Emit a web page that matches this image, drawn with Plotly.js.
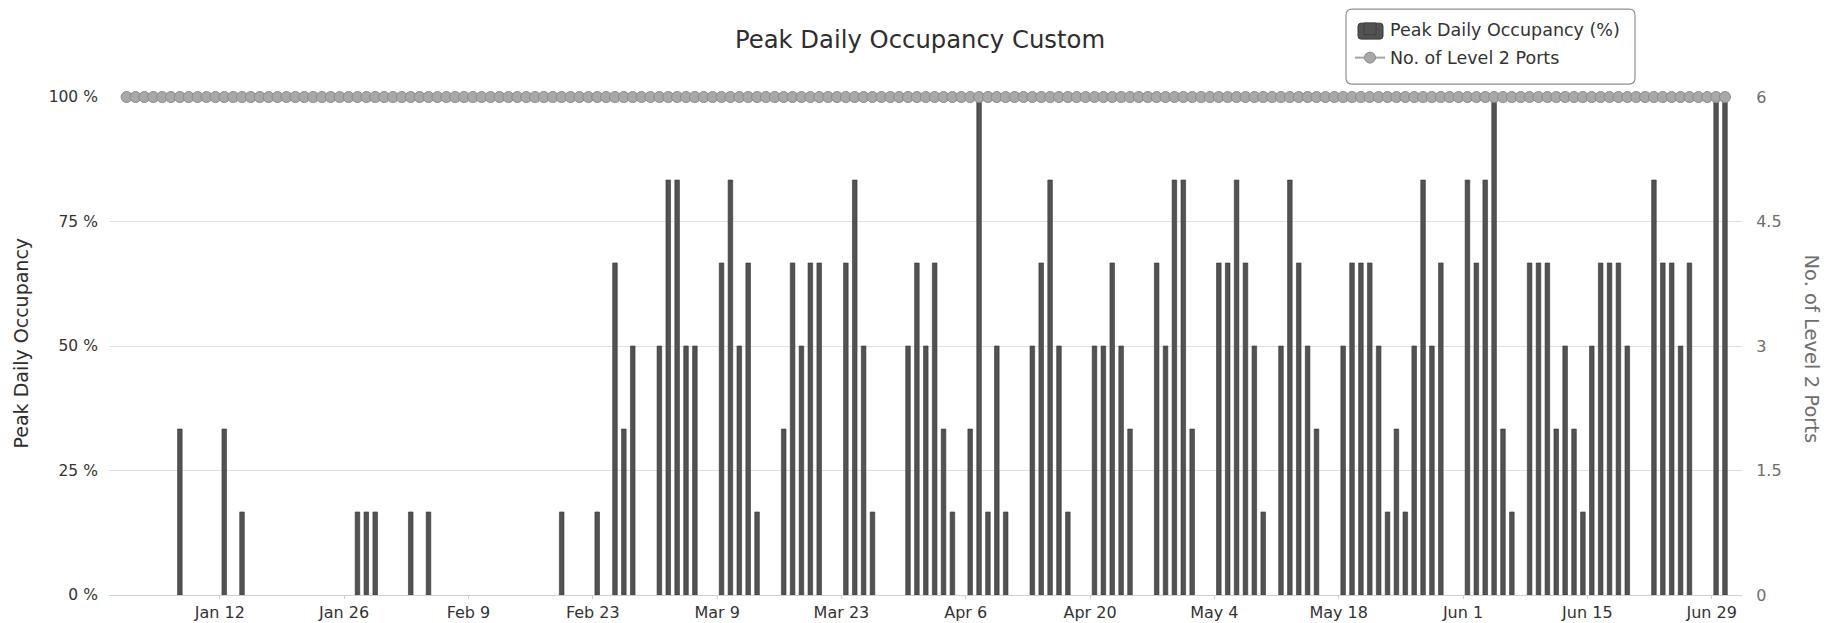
<!DOCTYPE html>
<html>
<head>
<meta charset="utf-8">
<script src="https://cdn.plot.ly/plotly-3.0.1.min.js"></script>
<style>
  html, body { margin: 0; padding: 0; background: #ffffff; }
  #chart { width: 1832px; height: 623px; }
</style>
</head>
<body>
<div id="chart"></div>
<script>
// ---- Data ----
const occupancyDates = [
  "2015-01-07","2015-01-12","2015-01-14",
  "2015-01-27","2015-01-28","2015-01-29","2015-02-02","2015-02-04",
  "2015-02-19","2015-02-23","2015-02-25","2015-02-26","2015-02-27",
  "2015-03-02","2015-03-03","2015-03-04","2015-03-05","2015-03-06",
  "2015-03-09","2015-03-10","2015-03-11","2015-03-12","2015-03-13",
  "2015-03-16","2015-03-17","2015-03-18","2015-03-19","2015-03-20",
  "2015-03-23","2015-03-24","2015-03-25","2015-03-26",
  "2015-03-30","2015-03-31","2015-04-01","2015-04-02","2015-04-03","2015-04-04",
  "2015-04-06","2015-04-07","2015-04-08","2015-04-09","2015-04-10",
  "2015-04-13","2015-04-14","2015-04-15","2015-04-16","2015-04-17",
  "2015-04-20","2015-04-21","2015-04-22","2015-04-23","2015-04-24",
  "2015-04-27","2015-04-28","2015-04-29","2015-04-30","2015-05-01",
  "2015-05-04","2015-05-05","2015-05-06","2015-05-07","2015-05-08","2015-05-09",
  "2015-05-11","2015-05-12","2015-05-13","2015-05-14","2015-05-15",
  "2015-05-18","2015-05-19","2015-05-20","2015-05-21","2015-05-22","2015-05-23",
  "2015-05-24","2015-05-25","2015-05-26","2015-05-27","2015-05-28","2015-05-29",
  "2015-06-01","2015-06-02","2015-06-03","2015-06-04","2015-06-05","2015-06-06",
  "2015-06-08","2015-06-09","2015-06-10","2015-06-11","2015-06-12","2015-06-13",
  "2015-06-14","2015-06-15","2015-06-16","2015-06-17","2015-06-18","2015-06-19",
  "2015-06-22","2015-06-23","2015-06-24","2015-06-25","2015-06-26",
  "2015-06-29","2015-06-30"
];
const occupancyValues = [
  33.33, 33.33, 16.67,
  16.67, 16.67, 16.67, 16.67, 16.67,
  16.67, 16.67, 66.67, 33.33, 50,
  50, 83.33, 83.33, 50, 50,
  66.67, 83.33, 50, 66.67, 16.67,
  33.33, 66.67, 50, 66.67, 66.67,
  66.67, 83.33, 50, 16.67,
  50, 66.67, 50, 66.67, 33.33, 16.67,
  33.33, 100, 16.67, 50, 16.67,
  50, 66.67, 83.33, 50, 16.67,
  50, 50, 66.67, 50, 33.33,
  66.67, 50, 83.33, 83.33, 33.33,
  66.67, 66.67, 83.33, 66.67, 50, 16.67,
  50, 83.33, 66.67, 50, 33.33,
  50, 66.67, 66.67, 66.67, 50, 16.67,
  33.33, 16.67, 50, 83.33, 50, 66.67,
  83.33, 66.67, 83.33, 100, 33.33, 16.67,
  66.67, 66.67, 66.67, 33.33, 50, 33.33,
  16.67, 50, 66.67, 66.67, 66.67, 50,
  83.33, 66.67, 66.67, 50, 66.67,
  100, 100
];

const portDates = [
  "2015-01-01","2015-01-02","2015-01-03","2015-01-04","2015-01-05","2015-01-06","2015-01-07","2015-01-08","2015-01-09","2015-01-10",
  "2015-01-11","2015-01-12","2015-01-13","2015-01-14","2015-01-15","2015-01-16","2015-01-17","2015-01-18","2015-01-19","2015-01-20",
  "2015-01-21","2015-01-22","2015-01-23","2015-01-24","2015-01-25","2015-01-26","2015-01-27","2015-01-28","2015-01-29","2015-01-30","2015-01-31",
  "2015-02-01","2015-02-02","2015-02-03","2015-02-04","2015-02-05","2015-02-06","2015-02-07","2015-02-08","2015-02-09","2015-02-10",
  "2015-02-11","2015-02-12","2015-02-13","2015-02-14","2015-02-15","2015-02-16","2015-02-17","2015-02-18","2015-02-19","2015-02-20",
  "2015-02-21","2015-02-22","2015-02-23","2015-02-24","2015-02-25","2015-02-26","2015-02-27","2015-02-28",
  "2015-03-01","2015-03-02","2015-03-03","2015-03-04","2015-03-05","2015-03-06","2015-03-07","2015-03-08","2015-03-09","2015-03-10",
  "2015-03-11","2015-03-12","2015-03-13","2015-03-14","2015-03-15","2015-03-16","2015-03-17","2015-03-18","2015-03-19","2015-03-20",
  "2015-03-21","2015-03-22","2015-03-23","2015-03-24","2015-03-25","2015-03-26","2015-03-27","2015-03-28","2015-03-29","2015-03-30","2015-03-31",
  "2015-04-01","2015-04-02","2015-04-03","2015-04-04","2015-04-05","2015-04-06","2015-04-07","2015-04-08","2015-04-09","2015-04-10",
  "2015-04-11","2015-04-12","2015-04-13","2015-04-14","2015-04-15","2015-04-16","2015-04-17","2015-04-18","2015-04-19","2015-04-20",
  "2015-04-21","2015-04-22","2015-04-23","2015-04-24","2015-04-25","2015-04-26","2015-04-27","2015-04-28","2015-04-29","2015-04-30",
  "2015-05-01","2015-05-02","2015-05-03","2015-05-04","2015-05-05","2015-05-06","2015-05-07","2015-05-08","2015-05-09","2015-05-10",
  "2015-05-11","2015-05-12","2015-05-13","2015-05-14","2015-05-15","2015-05-16","2015-05-17","2015-05-18","2015-05-19","2015-05-20",
  "2015-05-21","2015-05-22","2015-05-23","2015-05-24","2015-05-25","2015-05-26","2015-05-27","2015-05-28","2015-05-29","2015-05-30","2015-05-31",
  "2015-06-01","2015-06-02","2015-06-03","2015-06-04","2015-06-05","2015-06-06","2015-06-07","2015-06-08","2015-06-09","2015-06-10",
  "2015-06-11","2015-06-12","2015-06-13","2015-06-14","2015-06-15","2015-06-16","2015-06-17","2015-06-18","2015-06-19","2015-06-20",
  "2015-06-21","2015-06-22","2015-06-23","2015-06-24","2015-06-25","2015-06-26","2015-06-27","2015-06-28","2015-06-29","2015-06-30"
];
const portValues = [
  6,6,6,6,6,6,6,6,6,6, 6,6,6,6,6,6,6,6,6,6, 6,6,6,6,6,6,6,6,6,6,6,
  6,6,6,6,6,6,6,6,6,6, 6,6,6,6,6,6,6,6,6,6, 6,6,6,6,6,6,6,6,
  6,6,6,6,6,6,6,6,6,6, 6,6,6,6,6,6,6,6,6,6, 6,6,6,6,6,6,6,6,6,6,6,
  6,6,6,6,6,6,6,6,6,6, 6,6,6,6,6,6,6,6,6,6, 6,6,6,6,6,6,6,6,6,6,
  6,6,6,6,6,6,6,6,6,6, 6,6,6,6,6,6,6,6,6,6, 6,6,6,6,6,6,6,6,6,6,6,
  6,6,6,6,6,6,6,6,6,6, 6,6,6,6,6,6,6,6,6,6, 6,6,6,6,6,6,6,6,6,6
];

const leftTicks = [0, 25, 50, 75, 100];
const leftTickLabels = ["0 %", "25 %", "50 %", "75 %", "100 %"];
const rightTicks = [0, 1.5, 3, 4.5, 6];
const rightTickLabels = ["0", "1.5", "3", "4.5", "6"];

const chartTitle = "Peak Daily Occupancy Custom";
const barName = "Peak Daily Occupancy (%)";
const lineName = "No. of Level 2 Ports";
const leftAxisTitle = "Peak Daily Occupancy";
const rightAxisTitle = "No. of Level 2 Ports";

// ---- Geometry (pixels) ----
const W = 1832, H = 623;
const M = { l: 109, r: 90, t: 96, b: 28 };
const PW = W - M.l - M.r, PH = H - M.t - M.b;
const px2x = (px) => (px - M.l) / PW;            // pixel x -> paper x
const py2y = (py) => (H - M.b - py) / PH;        // pixel y -> paper y

function roundedRectPath(x0, y0, x1, y1, r) {
  const X = px2x, Y = py2y;
  return [
    "M", X(x0 + r), Y(y0),
    "L", X(x1 - r), Y(y0),
    "Q", X(x1), Y(y0), X(x1), Y(y0 + r),
    "L", X(x1), Y(y1 - r),
    "Q", X(x1), Y(y1), X(x1 - r), Y(y1),
    "L", X(x0 + r), Y(y1),
    "Q", X(x0), Y(y1), X(x0), Y(y1 - r),
    "L", X(x0), Y(y0 + r),
    "Q", X(x0), Y(y0), X(x0 + r), Y(y0),
    "Z"
  ].join(" ");
}

// ---- Chart ----
const FONT = "DejaVu Sans, Verdana, sans-serif";
const DAY = 86400000;
const BAR_COLOR = "#525252";

const traces = [
  {
    type: "bar",
    name: barName,
    legendgroup: "occ",
    x: occupancyDates,
    y: occupancyValues,
    xperiod: DAY,
    xperiodalignment: "middle",
    width: 0.52 * DAY,
    marker: { color: BAR_COLOR, line: { color: "#383838", width: 0.6 } },
    yaxis: "y"
  },
  {
    type: "scatter",
    mode: "lines+markers",
    name: lineName,
    legendgroup: "ports",
    x: portDates,
    y: portValues,
    xperiod: DAY,
    xperiodalignment: "middle",
    yaxis: "y2",
    cliponaxis: false,
    line: { color: "#a5a5a5", width: 2 },
    marker: { color: "#a8a8a8", size: 11, line: { color: "#8c8c8c", width: 1 } }
  }
];

const layout = {
  width: W,
  height: H,
  paper_bgcolor: "#ffffff",
  plot_bgcolor: "#ffffff",
  margin: { l: M.l, r: M.r, t: M.t, b: M.b, pad: 0 },
  font: { family: FONT, color: "#333333", size: 16 },
  title: {
    text: chartTitle,
    font: { family: FONT, size: 24.3, color: "#2e2e2e" },
    x: 920 / W, xref: "container", xanchor: "center",
    y: 1 - 39 / H, yref: "container", yanchor: "middle"
  },
  bargap: 0,
  showlegend: true,
  legend: {
    x: px2x(1350), xanchor: "left",
    y: py2y(11), yanchor: "top",
    bgcolor: "rgba(0,0,0,0)",
    borderwidth: 0,
    font: { family: FONT, size: 17.5, color: "#333333" },
    traceorder: "grouped",
    tracegroupgap: 3
  },
  shapes: [
    {
      // rounded legend frame
      type: "path",
      xref: "paper", yref: "paper",
      path: roundedRectPath(1346, 8, 1635, 83, 6),
      line: { color: "#8f8f8f", width: 1.2 },
      fillcolor: "#ffffff",
      layer: "above"
    },
    {
      // larger rounded swatch behind the bar legend symbol
      type: "path",
      xref: "paper", yref: "paper",
      path: roundedRectPath(1358, 22, 1383, 38, 3),
      line: { color: "#3a3a3a", width: 1 },
      fillcolor: BAR_COLOR,
      layer: "above"
    }
  ],
  xaxis: {
    type: "date",
    range: ["2014-12-30 12:30", "2015-07-02 10:00"],
    tick0: "2015-01-12",
    dtick: 14 * DAY,
    tickformat: "%b %-d",
    showgrid: false,
    showline: true,
    linecolor: "#d0d0d0",
    linewidth: 1,
    ticks: "outside",
    ticklen: 3,
    tickcolor: "#d0d0d0",
    tickfont: { family: FONT, size: 16, color: "#333333" },
    zeroline: false,
    fixedrange: true
  },
  yaxis: {
    range: [0, 100],
    tickvals: leftTicks,
    ticktext: leftTickLabels,
    showgrid: true,
    gridcolor: "#e0e0e0",
    gridwidth: 1,
    zeroline: false,
    showline: false,
    ticks: "outside",
    ticklen: 7,
    tickcolor: "rgba(0,0,0,0)",
    tickfont: { family: FONT, size: 15.5, color: "#333333" },
    fixedrange: true
  },
  yaxis2: {
    range: [0, 6],
    tickvals: rightTicks,
    ticktext: rightTickLabels,
    overlaying: "y",
    side: "right",
    showgrid: false,
    zeroline: false,
    showline: false,
    ticks: "outside",
    ticklen: 10,
    tickcolor: "rgba(0,0,0,0)",
    tickfont: { family: FONT, size: 16, color: "#6e6e6e" },
    fixedrange: true
  },
  annotations: [
    {
      text: leftAxisTitle,
      textangle: -90,
      xref: "paper", yref: "paper",
      x: px2x(21.5), y: py2y(342.5),
      xanchor: "center", yanchor: "middle",
      showarrow: false,
      font: { family: FONT, size: 19, color: "#2e2e2e" }
    },
    {
      text: rightAxisTitle,
      textangle: 90,
      xref: "paper", yref: "paper",
      x: px2x(1812), y: py2y(348),
      xanchor: "center", yanchor: "middle",
      showarrow: false,
      font: { family: FONT, size: 19.5, color: "#6e6e6e" }
    }
  ]
};

Plotly.newPlot("chart", traces, layout, { displayModeBar: false, staticPlot: true });
</script>
</body>
</html>
